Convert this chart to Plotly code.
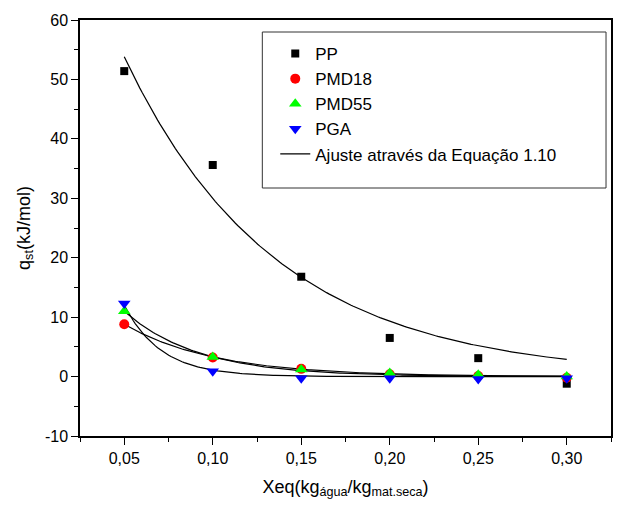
import numpy as np
import plotly.graph_objects as go

# ---- data ----
xeq = [0.05, 0.10, 0.15, 0.20, 0.25, 0.30]
pp = [51.4, 35.6, 16.8, 6.5, 3.1, -1.2]
pmd18 = [8.8, 3.2, 1.3, 0.4, 0.1, -0.2]
pmd55 = [11.0, 3.3, 1.2, 0.6, 0.3, 0.0]
pga = [12.3, 0.9, -0.3, -0.3, -0.4, -0.3]

# fit parameters (q = a * exp(-b * X))
fit_a = {"PP": 53.8 * np.exp(11.7 * 0.05), "PMD18": 8.8 * np.exp(19.6 * 0.05),
         "PMD55": 11.0 * np.exp(24.0 * 0.05), "PGA": 12.0 * np.exp(48.0 * 0.05)}
fit_b = {"PP": 11.7, "PMD18": 19.6, "PMD55": 24.0, "PGA": 48.0}

y_tickvals = [-10, 0, 10, 20, 30, 40, 50, 60]
y_ticktext = ["-10", "0", "10", "20", "30", "40", "50", "60"]

font_family = "Liberation Sans, Arial, sans-serif"

fig = go.Figure()

series = [
    ("PP", pp, "square", "#000000", 8),
    ("PMD18", pmd18, "circle", "#ff0000", 10),
    ("PMD55", pmd55, "triangle-up", "#00ff00", 11),
    ("PGA", pga, "triangle-down", "#0000ff", 11),
]

xfit = np.linspace(xeq[0], xeq[-1], 200)
for i, (name, _, _, _, _) in enumerate(series):
    fig.add_trace(go.Scatter(
        x=xfit, y=fit_a[name] * np.exp(-fit_b[name] * xfit),
        mode="lines", line=dict(color="black", width=1.2),
        name="Ajuste através da Equação 1.10", legendgroup="fit",
        showlegend=(i == 0), legendrank=10,
    ))

for k, (name, vals, sym, col, size) in enumerate(series):
    fig.add_trace(go.Scatter(
        x=xeq, y=vals, mode="markers", name=name,
        marker=dict(symbol=sym, color=col, size=size, line=dict(width=0)),
        legendrank=k + 1,
    ))

fig.update_layout(
    width=620, height=506,
    margin=dict(l=80, r=7, t=20, b=70),
    paper_bgcolor="white", plot_bgcolor="white",
    separators=",.",
    font=dict(family=font_family, color="black", size=16),
    legend=dict(
        x=(276 - 80) / 533, y=(436 - 36) / 416, xanchor="left", yanchor="top",
        bgcolor="rgba(0,0,0,0)", borderwidth=0,
        font=dict(size=17, family=font_family), tracegroupgap=0,
    ),
    shapes=[dict(type="rect", xref="paper", yref="paper",
                 x0=(263 - 80) / 533, x1=(608 - 80) / 533,
                 y0=(436 - 188) / 416, y1=(436 - 32) / 416,
                 line=dict(color="#333333", width=1))],
)

fig.update_xaxes(
    range=[0.025, 0.325], tick0=0.05, dtick=0.05, tickformat=".2f",
    ticks="outside", ticklen=7, tickwidth=1.2, tickcolor="black",
    minor=dict(ticks="outside", ticklen=4, dtick=0.025, tick0=0.025, tickcolor="black", tickwidth=1.2),
    showline=True, linecolor="black", linewidth=1.5, mirror=True,
    showgrid=False, zeroline=False,
    title=dict(text="Xeq(kg<sub>água</sub>/kg<sub>mat.seca</sub>)", font=dict(size=18), standoff=14),
)
fig.update_yaxes(
    range=[-10, 60], tickmode="array", tickvals=y_tickvals, ticktext=y_ticktext,
    ticks="outside", ticklen=7, tickwidth=1.2, tickcolor="black",
    minor=dict(ticks="outside", ticklen=4, dtick=5, tick0=0, tickcolor="black", tickwidth=1.2),
    showline=True, linecolor="black", linewidth=1.5, mirror=True,
    showgrid=False, zeroline=False,
    title=dict(text="q<sub>st</sub>(kJ/mol)", font=dict(size=18), standoff=10),
)

fig.write_html("out.html")
